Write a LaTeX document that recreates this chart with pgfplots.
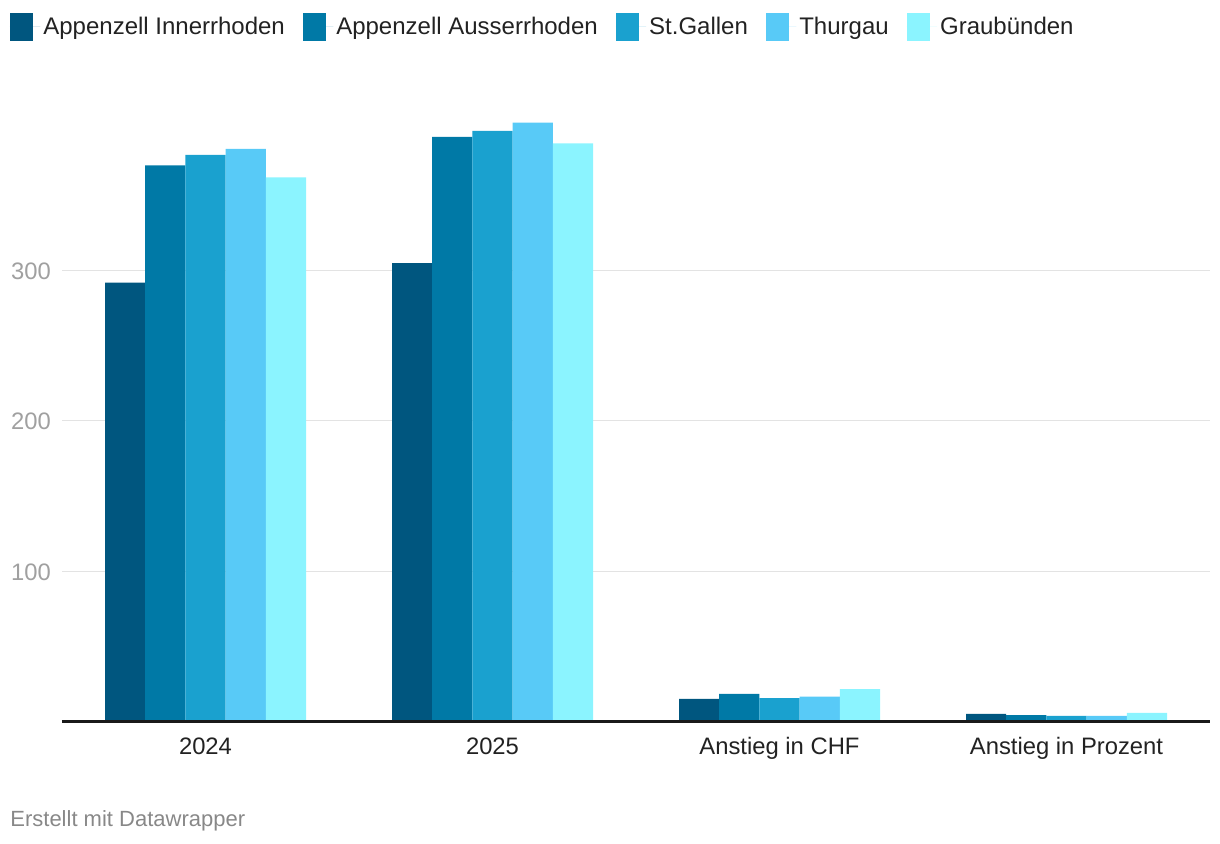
\documentclass[border=0pt]{standalone}
\usepackage{fontspec}
\setmainfont{Liberation Sans}
\usepackage{pgfplots}
\pgfplotsset{compat=1.18}

\definecolor{cAI}{HTML}{00567F}
\definecolor{cAA}{HTML}{0079A6}
\definecolor{cSG}{HTML}{1AA1CF}
\definecolor{cTG}{HTML}{58CAF7}
\definecolor{cGR}{HTML}{8BF4FF}
\definecolor{gridgray}{HTML}{E3E3E3}
\definecolor{ticktext}{HTML}{A0A0A0}
\definecolor{labeltext}{HTML}{222222}
\definecolor{notetext}{HTML}{888888}

\begin{document}
\begin{tikzpicture}
\useasboundingbox (0pt,0pt) rectangle (610pt,422pt);
\begin{axis}[
    at={(31pt,61.25pt)}, anchor=south west,
    scale only axis,
    width=574pt, height=300.6pt,
    xmin=-0.5, xmax=3.5,
    ymin=0, ymax=400,
    clip=false,
    ybar=0pt, bar width=20.1pt,
    xtick={0,1,2,3},
    xticklabels={2024,2025,Anstieg in CHF,Anstieg in Prozent},
    ytick={100,200,300},
    axis line style={draw=none},
    tick style={draw=none},
    major tick length=0pt,
    ymajorgrids=true,
    grid style={color=gridgray, line width=0.6pt},
    /pgf/number format/assume math mode=true,
    x tick label style={font=\fontsize{11.9}{14}\selectfont, text=labeltext, anchor=north, yshift=-4.5pt},
    y tick label style={font=\fontsize{11.9}{14}\selectfont, text=ticktext, anchor=east, xshift=-2pt, yshift=-0.4pt},
    legend columns=-1,
    legend style={at={(-0.0453,1.1785)}, anchor=north west, draw=none, fill=none,
        inner sep=0pt, outer sep=0pt,
        font=\fontsize{12}{14}\selectfont, text=labeltext,
        nodes={inner sep=1.5pt, anchor=west},
        /tikz/every even column/.append style={column sep=7.5pt}},
    legend image code/.code={\fill[#1] (0pt,-7pt) rectangle (11.7pt,7pt); \path (0pt,0pt) -- (15.2pt,0pt);},
]
\addplot[fill=cAI, draw=none] coordinates {(0,292) (1,305) (2,15) (3,5)};
\addplot[fill=cAA, draw=none] coordinates {(0,370) (1,389) (2,18.3) (3,4.3)};
\addplot[fill=cSG, draw=none] coordinates {(0,377) (1,393) (2,15.6) (3,3.7)};
\addplot[fill=cTG, draw=none] coordinates {(0,381) (1,398.5) (2,16.5) (3,3.7)};
\addplot[fill=cGR, draw=none] coordinates {(0,362) (1,384.6) (2,21.6) (3,5.7)};
\legend{Appenzell Innerrhoden, Appenzell Ausserrhoden, St.Gallen, Thurgau, Graubünden}
\draw[line width=1.1pt, color=black!90] (axis cs:-0.5,0) -- (axis cs:3.5,0);
\end{axis}
\node[anchor=west, inner sep=0pt, text=notetext, font=\fontsize{11}{13}\selectfont] at (5pt,11.5pt) {Erstellt mit Datawrapper};
\end{tikzpicture}
\end{document}
